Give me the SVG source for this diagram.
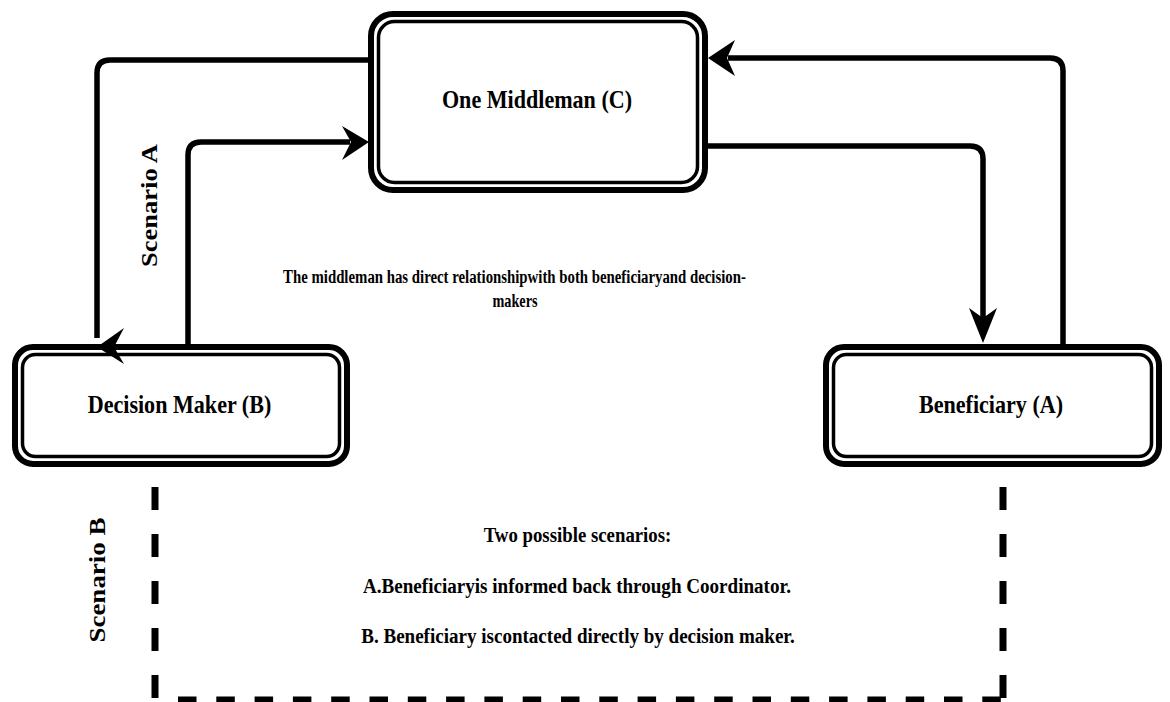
<svg xmlns="http://www.w3.org/2000/svg" width="1170" height="702" viewBox="0 0 1170 702">
  <style>
    .outer { fill: #fff; stroke: #000; stroke-width: 6; }
    .inner { fill: none; stroke: #000; stroke-width: 3.5; }
    .label { font-family: "Liberation Serif", "Times New Roman", serif; font-weight: bold; fill: #000; text-anchor: middle; }
    .edge { fill: none; stroke: #000; stroke-width: 5.5; stroke-linejoin: round; }
    .head { fill: #000; stroke: none; }
    .dash-v { fill: none; stroke: #000; stroke-width: 7; stroke-dasharray: 23 24; }
    .dash-h { fill: none; stroke: #000; stroke-width: 7; stroke-dasharray: 18.5 19.8; }
  </style>

  <rect width="1170" height="702" fill="#fff"/>

  <!-- nodes (labels set in a condensed bold serif via horizontal scaling) -->
  <g id="node-middleman">
    <rect class="outer" x="371" y="14" width="334" height="176" rx="22"/>
    <rect class="inner" x="378.5" y="21.5" width="319" height="161" rx="16"/>
    <text class="label" font-size="26" transform="translate(537,108) scale(0.85,1)">One Middleman (C)</text>
  </g>

  <g id="node-decision-maker">
    <rect class="outer" x="15" y="347" width="332" height="117" rx="18"/>
    <rect class="inner" x="22.5" y="354.5" width="317" height="102" rx="13"/>
    <text class="label" font-size="26" transform="translate(179.5,413) scale(0.85,1)">Decision Maker (B)</text>
  </g>

  <g id="node-beneficiary">
    <rect class="outer" x="826" y="347" width="333" height="117" rx="18"/>
    <rect class="inner" x="833.5" y="354.5" width="318" height="102" rx="13"/>
    <text class="label" font-size="26" transform="translate(991,413) scale(0.85,1)">Beneficiary (A)</text>
  </g>

  <!-- connectors, drawn over the node borders -->
  <g id="connectors">
    <!-- Middleman -> Decision Maker (Scenario A loop, outer) -->
    <path class="edge" d="M368,60 H110 Q97,60 97,73 V338"/>
    <polygon class="head" points="97,347 124,328 114,347 124,364"/>
    <!-- Decision Maker -> Middleman -->
    <path class="edge" d="M188,344 V155 Q188,142 201,142 H350"/>
    <polygon class="head" points="369,142 342,126 351,142 342,160"/>
    <!-- Middleman -> Beneficiary -->
    <path class="edge" d="M708,146 H970 Q983,146 983,159 V322"/>
    <polygon class="head" points="983,343 969,308 983,318 997,308"/>
    <!-- Beneficiary -> Middleman -->
    <path class="edge" d="M1063,344 V71 Q1063,58 1050,58 H728"/>
    <polygon class="head" points="708,58 735,40 727,58 735,76"/>
    <!-- Scenario B dashed frame -->
    <path class="dash-v" d="M155,487 V700"/>
    <path class="dash-v" d="M1003,487 V700"/>
    <path class="dash-h" d="M178,700 H1003"/>
  </g>

  <!-- free-standing annotations -->
  <g id="note-relationship">
    <text class="label" font-size="19" transform="translate(514.5,283) scale(0.78,1)">The middleman has direct relationshipwith both beneficiaryand decision-</text>
    <text class="label" font-size="19" transform="translate(515,307) scale(0.75,1)">makers</text>
  </g>

  <g id="note-scenarios">
    <text class="label" font-size="22" transform="translate(577.5,542) scale(0.855,1)">Two possible scenarios:</text>
    <text class="label" font-size="22" transform="translate(577,593) scale(0.867,1)">A.Beneficiaryis informed back through Coordinator.</text>
    <text class="label" font-size="22" transform="translate(578,643) scale(0.866,1)">B. Beneficiary iscontacted directly by decision maker.</text>
  </g>

  <g id="label-scenario-a">
    <text class="label" font-size="26.5" transform="translate(157,205.5) scale(0.85,1) rotate(-90)">Scenario A</text>
  </g>

  <g id="label-scenario-b">
    <text class="label" font-size="27" transform="translate(105,580) scale(0.85,1) rotate(-90)">Scenario B</text>
  </g>
</svg>
